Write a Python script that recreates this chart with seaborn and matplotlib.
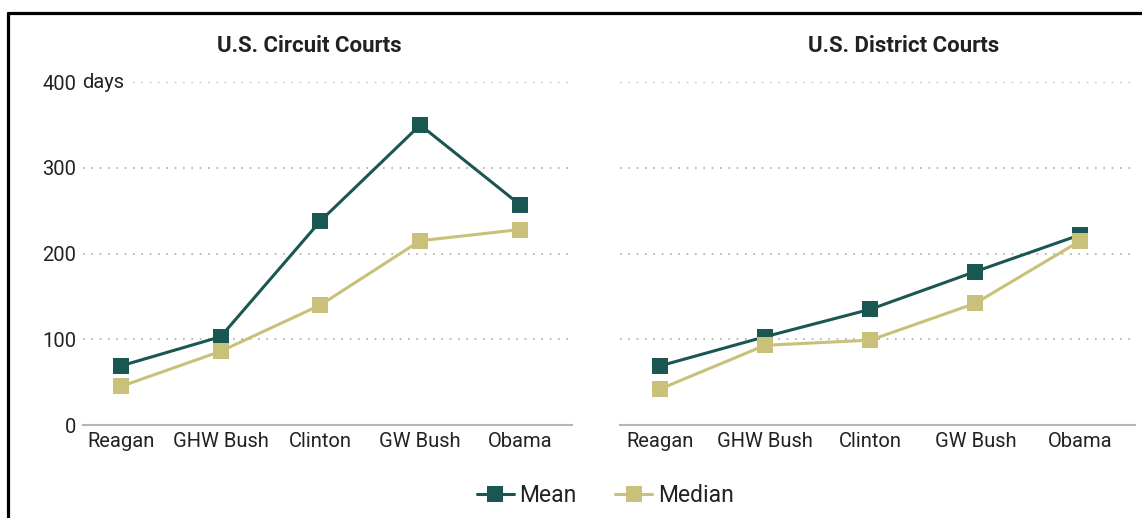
import pandas as pd
import seaborn as sns
import matplotlib.pyplot as plt
from matplotlib.lines import Line2D

presidents = ['Reagan', 'GHW Bush', 'Clinton', 'GW Bush', 'Obama']
circuit_mean = [69, 103, 238, 350, 257]
circuit_median = [45, 86, 140, 215, 228]
district_mean = [69, 103, 135, 179, 222]
district_median = [42, 93, 99, 142, 215]
y_ticks = [0, 100, 200, 300, 400]

MEAN_COLOR = '#1b5752'
MEDIAN_COLOR = '#c9c07a'
TEXT_COLOR = '#222222'


def make_df(mean, median):
    rows = []
    for p, m, md in zip(presidents, mean, median):
        rows.append({'president': p, 'stat': 'Mean', 'days': m})
        rows.append({'president': p, 'stat': 'Median', 'days': md})
    return pd.DataFrame(rows)


def draw_panel(ax, df, title, title_x, show_y):
    sns.lineplot(
        data=df, x='president', y='days', hue='stat',
        palette={'Mean': MEAN_COLOR, 'Median': MEDIAN_COLOR},
        hue_order=['Mean', 'Median'],
        marker='s', markersize=11, markeredgewidth=0, linewidth=2.2,
        ax=ax, legend=False, sort=False, zorder=3,
    )
    for line in ax.lines:
        line.set_clip_on(False)
    ax.set_xlim(-0.38, 4.52)
    ax.set_ylim(0, 400)
    ax.set_yticks(y_ticks)
    ax.yaxis.grid(True, linestyle=(0, (1, 4)), color='#aaaaaa', linewidth=1.2)
    ax.xaxis.grid(False)
    for s in ['top', 'right', 'left']:
        ax.spines[s].set_visible(False)
    ax.spines['bottom'].set_color('#b5b5b5')
    ax.spines['bottom'].set_linewidth(1.5)
    ax.tick_params(axis='both', length=0, labelsize=14.5, colors=TEXT_COLOR)
    ax.tick_params(axis='x', pad=5)
    ax.set_xlabel('')
    ax.set_ylabel('')
    if show_y:
        ax.set_yticklabels([str(t) for t in y_ticks])
        ax.tick_params(axis='y', pad=5)
        ax.text(-0.002, 400, 'days', transform=ax.get_yaxis_transform(),
                ha='left', va='center', fontsize=14.5, color=TEXT_COLOR,
                bbox=dict(facecolor='white', edgecolor='none', pad=4))
    else:
        ax.set_yticklabels([])
    ax.set_title(title, fontsize=16, fontweight='bold', color=TEXT_COLOR,
                 x=title_x, pad=22)


def main():
    sns.set_style('white')
    plt.rcParams['font.family'] = ['Liberation Sans Narrow', 'Roboto', 'DejaVu Sans']

    fig = plt.figure(figsize=(11.42, 5.18), dpi=100)
    ax1 = fig.add_axes([0.0727, 0.1795, 0.428, 0.662])
    ax2 = fig.add_axes([0.543, 0.1795, 0.451, 0.662])

    draw_panel(ax1, make_df(circuit_mean, circuit_median), 'U.S. Circuit Courts', 0.462, True)
    draw_panel(ax2, make_df(district_mean, district_median), 'U.S. District Courts', 0.551, False)

    # frame around the exhibit
    fig.add_artist(Line2D([0.007, 1.0], [0.975, 0.975], color='black', linewidth=2.3,
                          transform=fig.transFigure))
    fig.add_artist(Line2D([0.007, 0.007], [0.0, 0.975], color='black', linewidth=2.3,
                          transform=fig.transFigure))

    handles = [
        Line2D([], [], color=MEAN_COLOR, marker='s', markersize=11, markeredgewidth=0,
               linewidth=2.2, label='Mean'),
        Line2D([], [], color=MEDIAN_COLOR, marker='s', markersize=11, markeredgewidth=0,
               linewidth=2.2, label='Median'),
    ]
    fig.legend(handles=handles, loc='center', bbox_to_anchor=(0.53, 0.043), ncol=2,
               frameon=False, fontsize=16.5, handlelength=1.6, handletextpad=0.25,
               columnspacing=1.7, labelcolor=TEXT_COLOR)

    plt.savefig('out.png', dpi=100)


if __name__ == '__main__':
    main()
